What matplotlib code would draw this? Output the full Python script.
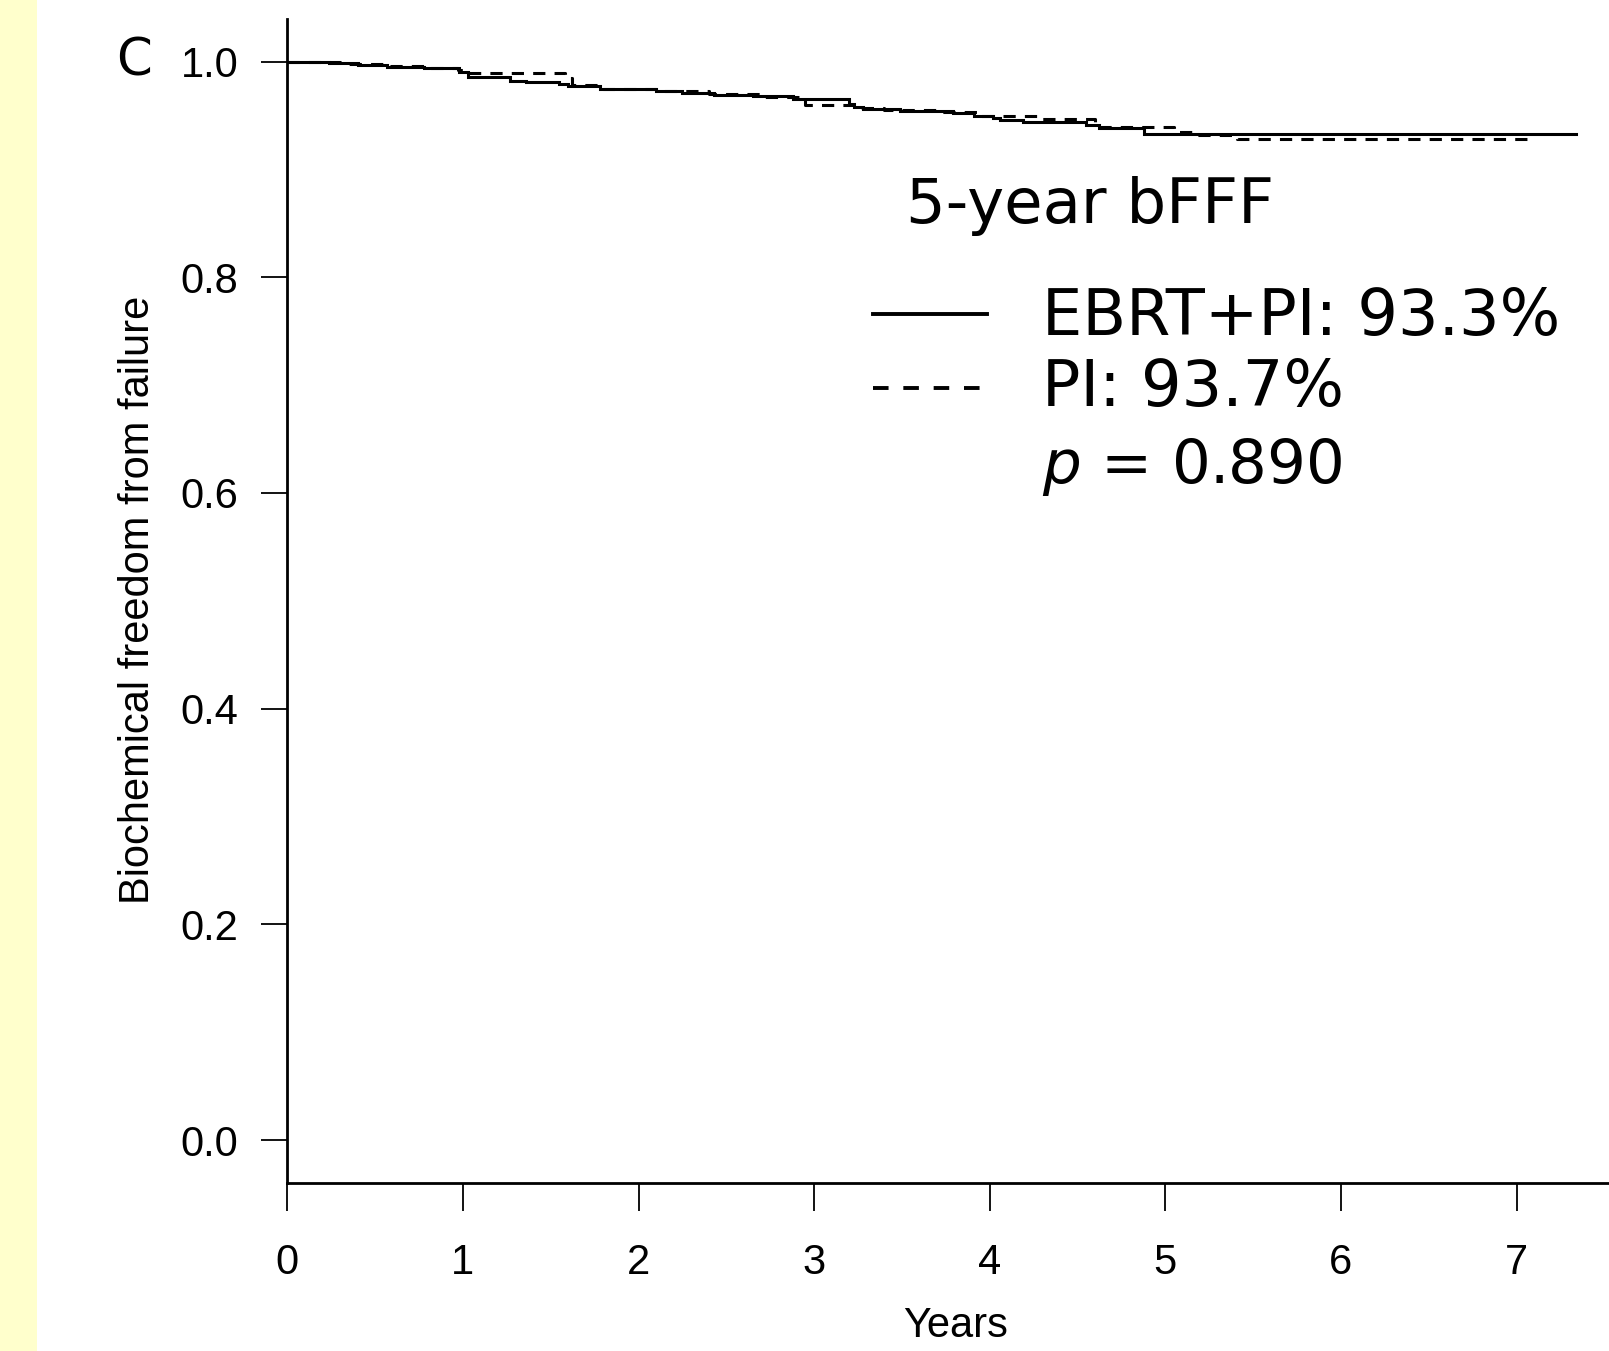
import matplotlib
matplotlib.use("Agg")
import matplotlib.pyplot as plt
from matplotlib.lines import Line2D
from matplotlib.patches import Rectangle

plt.rcParams["mathtext.fontset"] = "dejavusans"

# ---- data ----
ebrt_pi_times = [0, 0.24, 0.40, 0.57, 0.78, 0.98, 1.03, 1.27, 1.36, 1.55, 1.60, 1.78,
                 2.10, 2.25, 2.43, 2.65, 2.88, 3.20, 3.23, 3.28, 3.49, 3.79, 3.91,
                 4.02, 4.06, 4.19, 4.55, 4.62, 4.88, 7.34]
ebrt_pi_surv = [1.0, 0.999, 0.997, 0.995, 0.994, 0.990, 0.986, 0.982, 0.981, 0.979,
                0.977, 0.975, 0.973, 0.971, 0.969, 0.968, 0.965, 0.961, 0.958, 0.956,
                0.954, 0.952, 0.950, 0.948, 0.946, 0.944, 0.941, 0.938, 0.933, 0.933]

pi_times = [0, 0.30, 0.55, 0.80, 0.97, 1.02, 1.58, 1.62, 1.80, 2.10, 2.40, 2.70,
            2.95, 3.25, 3.40, 3.70, 3.95, 4.30, 4.60, 5.05, 5.15, 5.41, 7.07]
pi_surv = [1.0, 0.998, 0.996, 0.994, 0.992, 0.989, 0.985, 0.978, 0.975, 0.973,
           0.970, 0.967, 0.960, 0.957, 0.955, 0.953, 0.950, 0.947, 0.939, 0.935,
           0.932, 0.928, 0.928]

x_ticks = [0, 1, 2, 3, 4, 5, 6, 7]
y_ticks = [0.0, 0.2, 0.4, 0.6, 0.8, 1.0]
y_tick_labels = ["0.0", "0.2", "0.4", "0.6", "0.8", "1.0"]

panel_label = "C"
legend_title = "5-year bFFF"
series_labels = ["EBRT+PI: 93.3%", "PI: 93.7%"]
p_text = "0.890"

# ---- figure ----
W, H = 1609, 1351
fig = plt.figure(figsize=(W / 100, H / 100), dpi=100)
fig.patch.set_facecolor("white")
fig.patches.append(Rectangle((0, 0), 37 / W, 1, transform=fig.transFigure,
                             facecolor="#FFFFCC", edgecolor="none", zorder=0))

ax_left, ax_right, ax_top, ax_bottom = 287.3, 1609, 18.5, 1183
ax = fig.add_axes([ax_left / W, 1 - ax_bottom / H, (ax_right - ax_left) / W,
                   (ax_bottom - ax_top) / H])
ax.set_xlim(0, (ax_right - ax_left) / 175.6)
ax.set_ylim(-(ax_bottom - 1140) / 1078.6, 1 + (61.6 - ax_top) / 1078.6)

ax.plot(ebrt_pi_times, ebrt_pi_surv, drawstyle="steps-post", color="black",
        lw=2.2, solid_joinstyle="miter")
ax.plot(pi_times, pi_surv, drawstyle="steps-post", color="black", lw=2.2,
        dashes=(4, 3))

for s in ["top", "right"]:
    ax.spines[s].set_visible(False)
for s in ["left", "bottom"]:
    ax.spines[s].set_linewidth(2.0)

tickfont = "Liberation Sans"
ax.set_xticks(x_ticks)
ax.set_xticklabels([str(v) for v in x_ticks], fontfamily=tickfont, fontsize=30)
ax.set_yticks(y_ticks)
ax.set_yticklabels(y_tick_labels, fontfamily=tickfont, fontsize=30)
ax.tick_params(axis="x", direction="out", length=20, width=1.3, pad=23)
ax.tick_params(axis="y", direction="out", length=18.4, width=1.3, pad=17)

fig.text(138.5 / W, 1 - 600 / H, "Biochemical freedom from failure",
         rotation=90, ha="center", va="center", fontfamily=tickfont, fontsize=30)
fig.text(956 / W, 1 - 1346 / H, "Years", ha="center", va="bottom",
         fontfamily=tickfont, fontsize=30)

fig.text(116 / W, 1 - 76 / H, panel_label, ha="left", va="baseline",
         fontfamily="DejaVu Sans", fontsize=37)

# legend-like annotation
lf = "DejaVu Sans"
fig.text(906 / W, 1 - 223 / H, legend_title, ha="left", va="baseline",
         fontfamily=lf, fontsize=45)
fig.text(1041.5 / W, 1 - 335.5 / H, series_labels[0], ha="left", va="baseline",
         fontfamily=lf, fontsize=46)
fig.text(1041.5 / W, 1 - 405.5 / H, series_labels[1], ha="left", va="baseline",
         fontfamily=lf, fontsize=46)
fig.text(1041.5 / W, 1 - 483 / H, r"$\it{p}$ = " + p_text, ha="left", va="baseline",
         fontfamily=lf, fontsize=44)

fig.lines.append(Line2D([873 / W, 987 / W], [1 - 314 / H, 1 - 314 / H],
                        transform=fig.transFigure, color="black", lw=2.8))
fig.lines.append(Line2D([873 / W, 982 / W], [1 - 388 / H, 1 - 388 / H],
                        transform=fig.transFigure, color="black", lw=2.8,
                        dashes=(4.0, 3.8)))

fig.savefig("out.png", dpi=100)
